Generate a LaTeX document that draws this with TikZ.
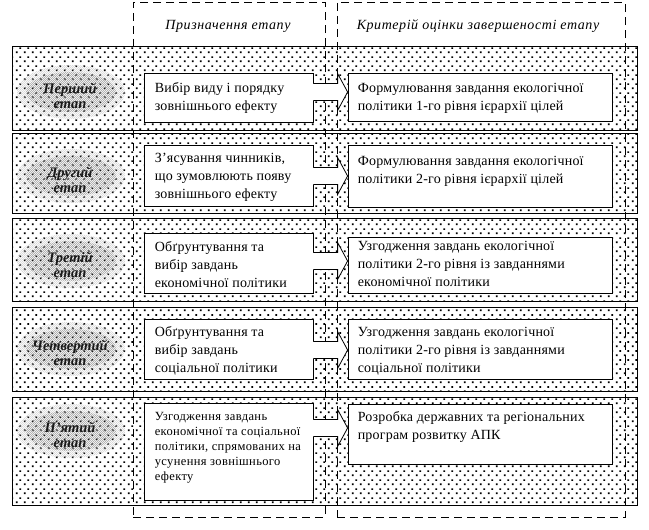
\documentclass[tikz,border=0pt]{standalone}
\usepackage{fontspec}
\setmainfont{Liberation Serif}
\usetikzlibrary{patterns,shapes.geometric,calc}
\pgfdeclarepatternformonly{banddots}{\pgfpointorigin}{\pgfpoint{7.5pt}{8.6pt}}{\pgfpoint{7.5pt}{8.6pt}}{%
  \pgfpathrectangle{\pgfpoint{1pt}{1pt}}{\pgfpoint{1.7pt}{1.7pt}}%
  \pgfpathrectangle{\pgfpoint{4.75pt}{5.3pt}}{\pgfpoint{1.7pt}{1.7pt}}%
  \pgfusepath{fill}}
\pgfdeclarepatternformonly{finedots}{\pgfpointorigin}{\pgfpoint{2.4pt}{2.4pt}}{\pgfpoint{2.4pt}{2.4pt}}{%
  \pgfpathrectangle{\pgfpoint{0pt}{0pt}}{\pgfpoint{0.8pt}{0.8pt}}%
  \pgfpathrectangle{\pgfpoint{1.2pt}{1.2pt}}{\pgfpoint{0.8pt}{0.8pt}}%
  \pgfusepath{fill}}
\newfontfamily\boxfont[LetterSpace=1.5]{Liberation Serif}
\newfontfamily\smallfont[LetterSpace=3]{Liberation Serif}
\newfontfamily\headfont[LetterSpace=4]{Liberation Serif}
\tikzset{
  band/.style={draw, line width=0.9pt, pattern=banddots, rectangle, inner sep=0pt},
  colbox/.style={draw, line width=0.8pt, dash pattern=on 8pt off 5pt, rectangle, inner sep=0pt},
  whitebox/.style={draw, line width=0.8pt, fill=white, rectangle, inner sep=0pt},
  boxtext/.style={anchor=north west, inner sep=0pt, align=left, font=\boxfont\fontsize{14}{18}\selectfont},
  smalltext/.style={anchor=north west, inner sep=0pt, align=left, font=\smallfont\fontsize{12.5}{15}\selectfont},
  headtext/.style={inner sep=0pt, font=\headfont\fontsize{14}{16}\selectfont\itshape},
  glowout/.style={ellipse, pattern=finedots, pattern color=black!28, minimum width=108pt, minimum height=54pt, inner sep=0pt},
  glowin/.style={ellipse, pattern=finedots, pattern color=black!50, minimum width=90pt, minimum height=40pt, inner sep=0pt},
  stagetext/.style={align=center, inner sep=0pt, text=black!90, font=\fontsize{14.5}{15.5}\selectfont\bfseries\itshape},
}
\newcommand\blockarr[3]{%
  \coordinate (a#1) at (0,#3);
  \fill[white] ($(#1.east |- a#1)+(-0.5,-8.5)$) -- ($(#2.west |- a#1)+(-10,-8.5)$) -- ($(#2.west |- a#1)+(-10,-18.5)$) -- (#2.west |- a#1) -- ($(#2.west |- a#1)+(-10,18.5)$) -- ($(#2.west |- a#1)+(-10,8.5)$) -- ($(#1.east |- a#1)+(-0.5,8.5)$) -- cycle;
  \draw[line width=0.8pt] ($(#1.east |- a#1)+(0,-8.5)$) -- ($(#2.west |- a#1)+(-10,-8.5)$) -- ($(#2.west |- a#1)+(-10,-18.5)$) -- (#2.west |- a#1) -- ($(#2.west |- a#1)+(-10,18.5)$) -- ($(#2.west |- a#1)+(-10,8.5)$) -- ($(#1.east |- a#1)+(0,8.5)$);}
\newcommand\glowat[2]{%
  \node[glowout] (#1) at #2 {};
  \node[glowin] (#1i) at (#1) {};}
\begin{document}
\begin{tikzpicture}[x=1pt,y=-1pt]
\useasboundingbox (0,0) rectangle (649,530);
% bands
\node[band, minimum width=625pt, minimum height=84pt] (B1) at (324.5,88) {};
\node[band, minimum width=625pt, minimum height=80pt] (B2) at (324.5,173) {};
\node[band, minimum width=625pt, minimum height=83pt] (B3) at (324.5,259.5) {};
\node[band, minimum width=625pt, minimum height=84pt] (B4) at (324.5,349) {};
\node[band, minimum width=625pt, minimum height=108pt] (B5) at (324.5,451) {};
% glow ellipses and stage labels
\glowat{E1}{(71,92)}
\glowat{E2}{(71,176)}
\glowat{E3}{(71,261)}
\glowat{E4}{(71,349)}
\glowat{E5}{(71,431)}
\node[stagetext] (S1) at ($(E1)+(-1,4)$) {Перший\\етап};
\node[stagetext] (S2) at ($(E2)+(-1,4)$) {Другий\\етап};
\node[stagetext] (S3) at ($(E3)+(-1,4)$) {Третій\\етап};
\node[stagetext] (S4) at ($(E4)+(-1,4)$) {Четвертий\\етап};
\node[stagetext] (S5) at ($(E5)+(-1,4)$) {П’ятий\\етап};
% dashed columns
\node[colbox, minimum width=192pt, minimum height=515pt] (C1) at (229,259.5) {};
\node[colbox, minimum width=288pt, minimum height=515pt] (C2) at (481,259.5) {};
\node[headtext] (H1) at (228,26) {Призначення етапу};
\node[headtext] (H2) at (478,26) {Критерій оцінки завершеності етапу};
% left boxes
\node[whitebox, minimum width=169pt, minimum height=49pt] (L1) at (228.5,97.5) {};
\node[whitebox, minimum width=169pt, minimum height=61pt] (L2) at (228.5,175.5) {};
\node[whitebox, minimum width=169pt, minimum height=60pt] (L3) at (228.5,263) {};
\node[whitebox, minimum width=169pt, minimum height=60pt] (L4) at (228.5,349) {};
\node[whitebox, minimum width=169pt, minimum height=97pt] (L5) at (228.5,451.5) {};
% right boxes
\node[whitebox, minimum width=264pt, minimum height=48pt] (R1) at (480,97) {};
\node[whitebox, minimum width=264pt, minimum height=62pt] (R2) at (480,176) {};
\node[whitebox, minimum width=264pt, minimum height=56pt] (R3) at (480,265) {};
\node[whitebox, minimum width=264pt, minimum height=60pt] (R4) at (480,349) {};
\node[whitebox, minimum width=264pt, minimum height=60pt] (R5) at (480,434) {};
% arrows
\blockarr{L1}{R1}{92}
\blockarr{L2}{R2}{176}
\blockarr{L3}{R3}{261}
\blockarr{L4}{R4}{350}
\blockarr{L5}{R5}{428}
% texts
\node[boxtext] (TL1) at ($(L1.north west)+(11,8)$) {\rule{0pt}{12pt}Вибір виду і порядку\\зовнішнього ефекту};
\node[boxtext] (TL2) at ($(L2.north west)+(11,6)$) {\rule{0pt}{12pt}З’ясування чинників,\\що зумовлюють появу\\зовнішнього ефекту};
\node[boxtext] (TL3) at ($(L3.north west)+(11,7)$) {\rule{0pt}{12pt}Обґрунтування та\\вибір завдань\\економічної політики};
\node[boxtext] (TL4) at ($(L4.north west)+(11,6)$) {\rule{0pt}{12pt}Обґрунтування та\\вибір завдань\\соціальної політики};
\node[smalltext] (TL5) at ($(L5.north west)+(11,7)$) {\rule{0pt}{11pt}Узгодження завдань\\економічної та соціальної\\політики, спрямованих на\\усунення зовнішнього\\ефекту};
\node[boxtext] (TR1) at ($(R1.north west)+(10,8)$) {\rule{0pt}{12pt}Формулювання завдання екологічної\\політики 1-го рівня ієрархії цілей};
\node[boxtext] (TR2) at ($(R2.north west)+(10,9)$) {\rule{0pt}{12pt}Формулювання завдання екологічної\\політики 2-го рівня ієрархії цілей};
\node[boxtext] (TR3) at ($(R3.north west)+(10,2)$) {\rule{0pt}{12pt}Узгодження завдань екологічної\\політики 2-го рівня із завданнями\\економічної політики};
\node[boxtext] (TR4) at ($(R4.north west)+(10,6)$) {\rule{0pt}{12pt}Узгодження завдань екологічної\\політики 2-го рівня із завданнями\\соціальної політики};
\node[boxtext] (TR5) at ($(R5.north west)+(10,6)$) {\rule{0pt}{12pt}Розробка державних та регіональних\\програм розвитку АПК};
\end{tikzpicture}
\end{document}
